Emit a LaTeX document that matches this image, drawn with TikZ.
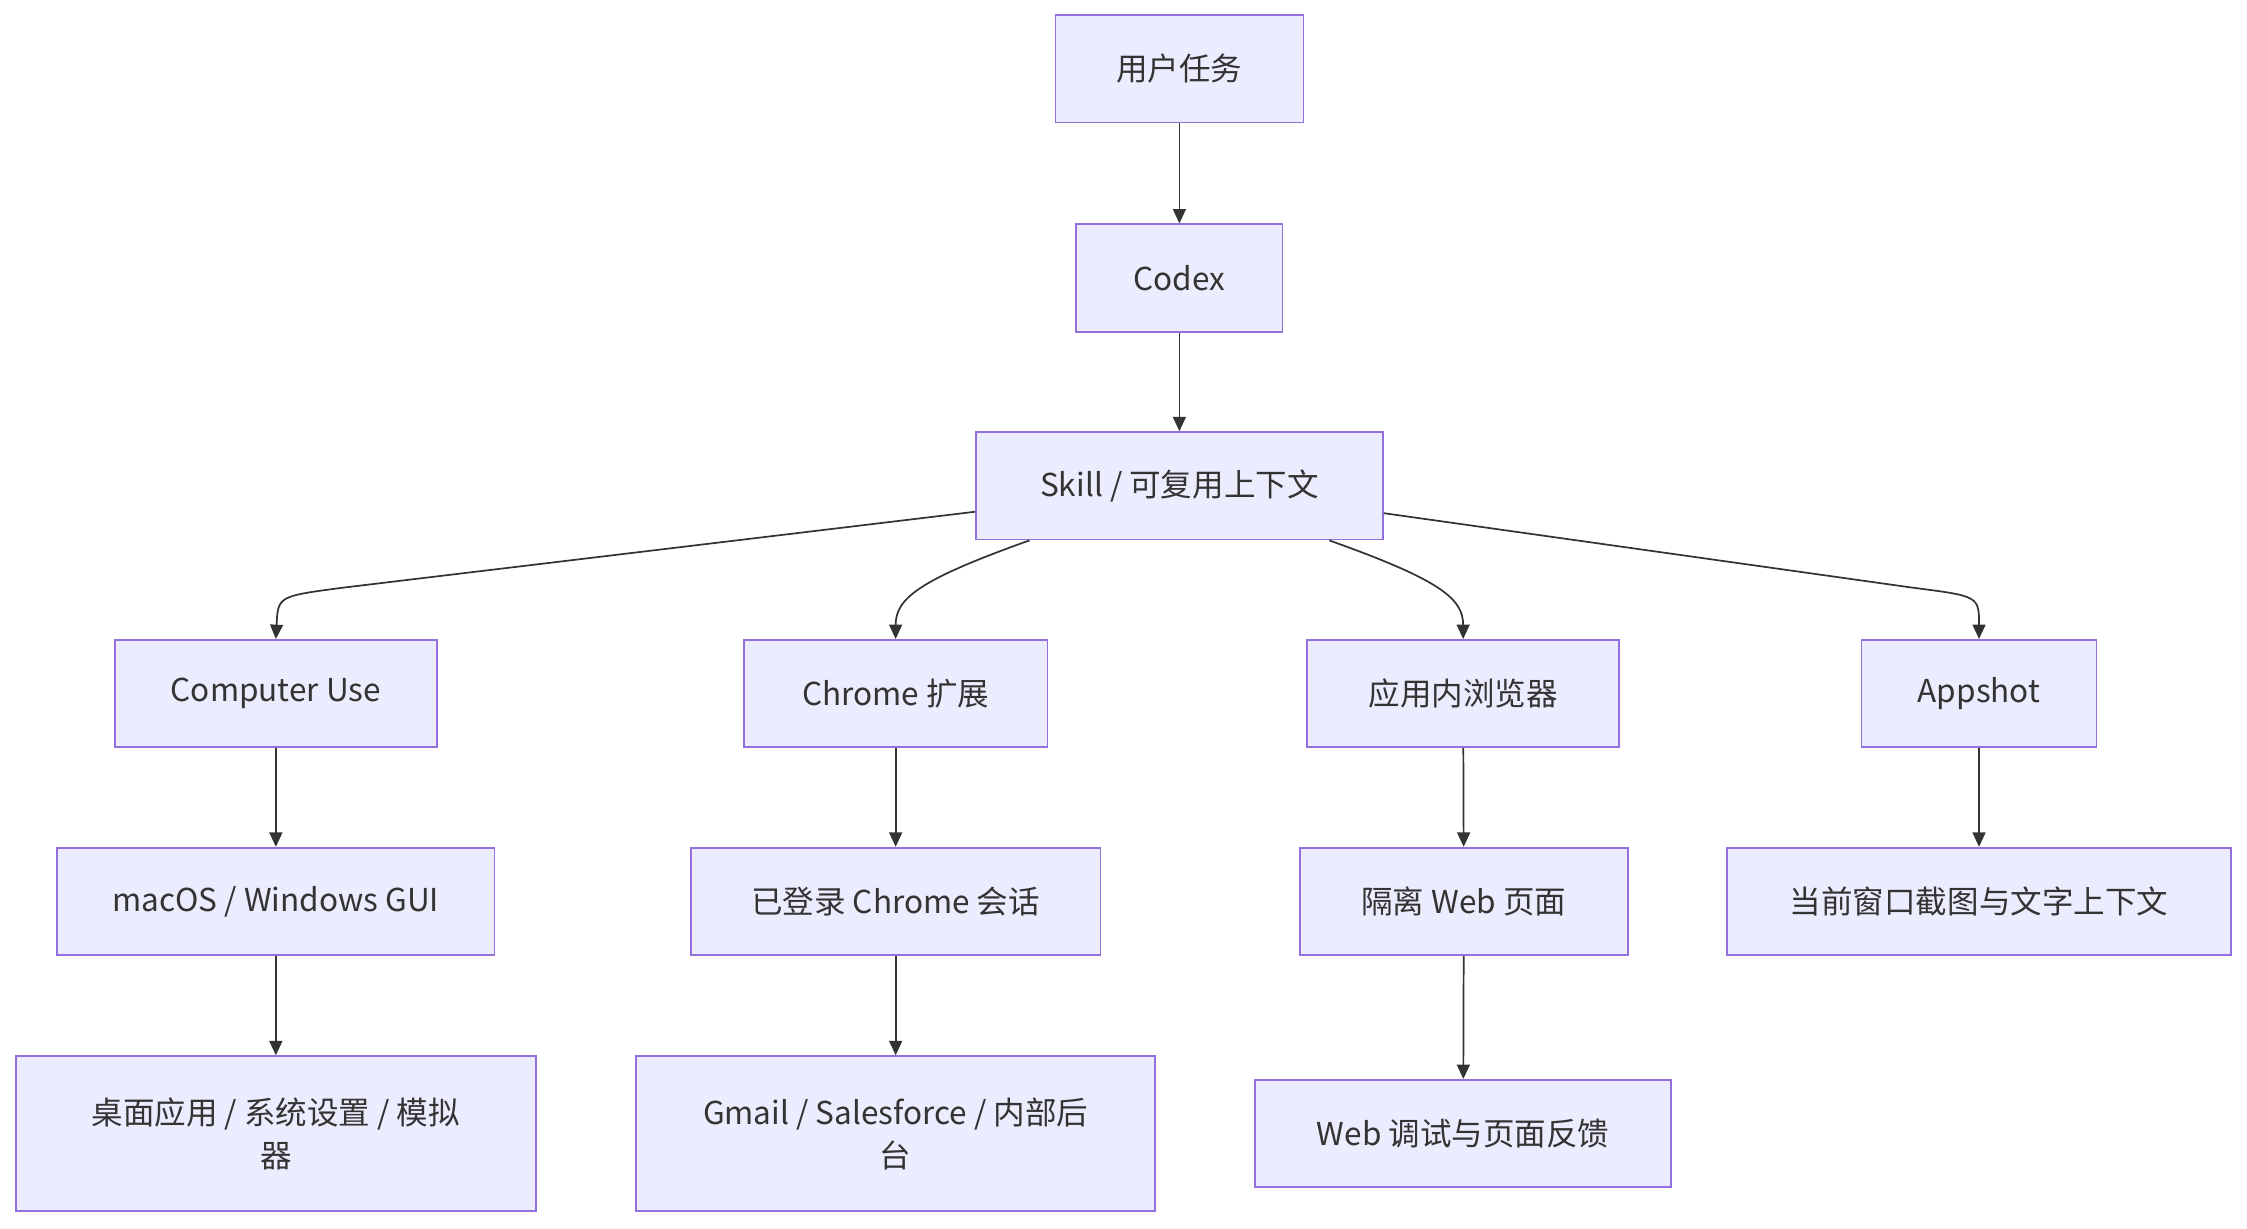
\documentclass[tikz,border=0pt]{standalone}
\usepackage{fontspec}
\setmainfont{Noto Sans CJK SC}
\usetikzlibrary{arrows.meta,calc}
\definecolor{nfill}{HTML}{ECECFF}
\definecolor{nline}{HTML}{9370DB}
\definecolor{eline}{HTML}{333333}
\begin{document}
\begin{tikzpicture}[x=0.5pt,y=-0.5pt,
  box/.style={draw=nline,fill=nfill,line width=0.6pt,minimum height=37.5pt,inner sep=0pt,align=center,font=\fontsize{11}{15}\selectfont,text=eline},
  arr/.style={draw=eline,line width=0.6pt,-{Triangle[length=5pt,width=4.5pt]}}]
\useasboundingbox (0,0) rectangle (1568,857);
\node[box,minimum width=86.5pt] (u) at (823,48) {用户任务};
\node[box,minimum width=72pt] (c) at (823,194) {Codex};
\node[box,minimum width=142pt] (s) at (823,339) {Skill / 可复用上下文};
\node[box,minimum width=112.5pt] (cu) at (192.5,484) {Computer Use};
\node[box,minimum width=106pt] (ch) at (625,484) {Chrome 扩展};
\node[box,minimum width=109pt] (br) at (1021,484) {应用内浏览器};
\node[box,minimum width=82pt] (as) at (1381,484) {Appshot};
\node[box,minimum width=152.5pt] (mac) at (192.5,629) {macOS / Windows GUI};
\node[box,minimum width=143pt] (lg) at (625,629) {已登录 Chrome 会话};
\node[box,minimum width=114.5pt] (iso) at (1021.5,629) {隔离 Web 页面};
\node[box,minimum width=176pt] (cur) at (1381,629) {当前窗口截图与文字上下文};
\node[box,minimum width=181.5pt,minimum height=54pt] (desk) at (192.5,791) {桌面应用 / 系统设置 / 模拟\\器};
\node[box,minimum width=181pt,minimum height=54pt] (gm) at (625,791) {Gmail / Salesforce / 内部后\\台};
\node[box,minimum width=145pt] (wd) at (1021,791) {Web 调试与页面反馈};
\draw[arr] (u) -- (c);
\draw[arr] (c) -- (s);
\draw[arr] ($(s.south west)+(0,-20)$) -- (240,410) .. controls (194,416) .. (cu.north);
\draw[arr] ($(s.south west)+(38,0)$) .. controls (640,405) and (625,418) .. (ch.north);
\draw[arr] ($(s.south east)+(-38,0)$) .. controls (1006,405) and (1021,418) .. (br.north);
\draw[arr] ($(s.south east)+(0,-19)$) -- (1334,410) .. controls (1381,416) .. (as.north);
\draw[arr] (cu) -- (mac);
\draw[arr] (mac) -- (desk);
\draw[arr] (ch) -- (lg);
\draw[arr] (lg) -- (gm);
\draw[arr] (br) -- (iso);
\draw[arr] (iso) -- (wd);
\draw[arr] (as) -- (cur);
\end{tikzpicture}
\end{document}
